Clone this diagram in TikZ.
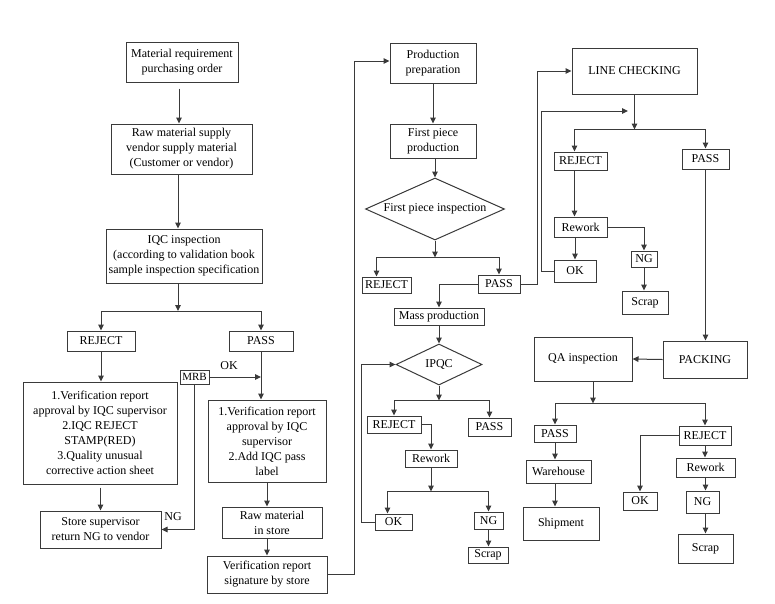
\documentclass[tikz,border=0pt]{standalone}
\usepackage{fontspec}
\setmainfont{Liberation Serif}
\usetikzlibrary{arrows.meta,shapes.geometric}
\definecolor{lc}{HTML}{3A3A3A}
\begin{document}
\begin{tikzpicture}[x=1pt,y=-1pt,
  every node/.style={font=\fontsize{12}{15}\selectfont, text=black},
  box/.style={draw=lc, line width=1pt, rectangle, inner sep=1pt, align=center},
  dia/.style={draw=lc, line width=1pt, diamond, inner sep=0pt, align=center},
  arr/.style={draw=lc, line width=1pt, -{Triangle[length=6pt,width=5.5pt]}},
  lbl/.style={inner sep=0pt}
]
\fill[white] (0,0) rectangle (775,603);
\useasboundingbox (0,0) rectangle (775,603);

% ---------- column 1 ----------
\node[box, minimum width=112pt, minimum height=40pt] (mro) at (182,62) {Material requirement\\purchasing order};
\node[box, minimum width=141pt, minimum height=50pt] (raw) at (181.5,149) {Raw material supply\\vendor supply material\\(Customer or vendor)};
\node[box, minimum width=156pt, minimum height=54pt] (iqc) at (184,256) {IQC inspection\\(according to validation book\\sample inspection specification};
\node[box, minimum width=68pt, minimum height=20pt] (rej1) at (101,341) {REJECT};
\node[box, minimum width=64pt, minimum height=20pt] (pass1) at (261,341) {PASS};
\node[box, minimum width=154pt, minimum height=102pt] (rejact) at (100,433) {1.Verification report\\approval by IQC supervisor\\2.IQC REJECT\\STAMP(RED)\\3.Quality unusual\\corrective action sheet};
\node[box, minimum width=29pt, minimum height=14pt, font=\fontsize{11}{13}\selectfont] (mrb) at (194.5,377) {MRB};
\node[box, minimum width=118pt, minimum height=82pt] (passact) at (267,441) {1.Verification report\\approval by IQC\\supervisor\\2.Add IQC pass\\label};
\node[box, minimum width=121pt, minimum height=37pt] (store) at (100.5,529.5) {Store supervisor\\return NG to vendor};
\node[box, minimum width=100pt, minimum height=31pt] (rawstore) at (272,522.5) {Raw material\\in store};
\node[box, minimum width=120pt, minimum height=37pt] (versig) at (267,574.5) {Verification report\\signature by store};
\node[lbl] (okl) at (229,366) {OK};
\node[lbl] (ngl) at (173,517) {NG};

% ---------- column 2 ----------
\node[box, minimum width=86pt, minimum height=40pt] (prodprep) at (433,63) {Production\\preparation};
\node[box, minimum width=86pt, minimum height=34pt] (fpp) at (433,141) {First piece\\production};
\node[dia, aspect=2.24, minimum width=139pt, minimum height=62pt] (fpi) at (435,209) {First piece inspection};
\node[box, minimum width=49pt, minimum height=16pt] (rej2) at (386.5,285) {REJECT};
\node[box, minimum width=42pt, minimum height=18pt] (pass2) at (499,284) {PASS};
\node[box, minimum width=90pt, minimum height=17pt] (mass) at (439,316.5) {Mass production};
\node[dia, aspect=2.1, minimum width=86pt, minimum height=41pt] (ipqc) at (439,364.5) {IPQC};
\node[box, minimum width=54pt, minimum height=17pt] (rej3) at (394,424.5) {REJECT};
\node[box, minimum width=43pt, minimum height=18pt] (pass3) at (489.5,427) {PASS};
\node[box, minimum width=52pt, minimum height=17pt] (rework3) at (431,458.5) {Rework};
\node[box, minimum width=37pt, minimum height=16pt] (ok3) at (393.5,522) {OK};
\node[box, minimum width=29pt, minimum height=17pt] (ng3) at (488.5,520.5) {NG};
\node[box, minimum width=40pt, minimum height=16pt] (scrap3) at (488,555) {Scrap};

% ---------- column 3 ----------
\node[box, minimum width=125pt, minimum height=46pt] (linechk) at (634.5,71) {LINE CHECKING};
\node[box, minimum width=53pt, minimum height=18pt] (rej4) at (580.5,161) {REJECT};
\node[box, minimum width=47pt, minimum height=20pt] (pass4) at (705.5,159) {PASS};
\node[box, minimum width=53pt, minimum height=20pt] (rework4) at (580.5,227) {Rework};
\node[box, minimum width=26pt, minimum height=16pt] (ng4) at (644,259) {NG};
\node[box, minimum width=46pt, minimum height=23pt] (scrap4) at (645,302.5) {Scrap};
\node[box, minimum width=42pt, minimum height=22pt] (ok4) at (575,271) {OK};
\node[box, minimum width=84pt, minimum height=37pt] (packing) at (705,359.5) {PACKING};
\node[box, minimum width=98pt, minimum height=44pt] (qa) at (583,359) {QA inspection};
\node[box, minimum width=42pt, minimum height=17pt] (pass5) at (555,433.5) {PASS};
\node[box, minimum width=52pt, minimum height=19pt] (rej5) at (705,435.5) {REJECT};
\node[box, minimum width=65pt, minimum height=23pt] (warehouse) at (558.5,471.5) {Warehouse};
\node[box, minimum width=76pt, minimum height=33pt] (shipment) at (561,523.5) {Shipment};
\node[box, minimum width=34pt, minimum height=18pt] (ok5) at (640,501) {OK};
\node[box, minimum width=59pt, minimum height=19pt] (rework5) at (705.5,467.5) {Rework};
\node[box, minimum width=33pt, minimum height=22pt] (ng5) at (702.5,502) {NG};
\node[box, minimum width=55pt, minimum height=29pt] (scrap5) at (705.5,548.5) {Scrap};

% ---------- connectors column 1 ----------
\coordinate (c0) at (179,0);
\draw[arr, shorten <=6pt] (mro.south -| c0) -- (raw.north -| c0);
\draw[arr] (raw.south -| 178,0) -- (iqc.north -| 178,0);
\coordinate (j1) at (178,311);
\draw[arr] (j1 |- iqc.south) -- (j1);
\draw[arr] (j1) -| (rej1.north);
\draw[arr] (j1) -| (pass1.north);
\draw[arr] (rej1.south) -- (rej1.south |- rejact.north);
\draw[arr] (pass1.south) -- (pass1.south |- passact.north);
\draw[arr] (mrb.east) -- (mrb.east -| pass1.south);
\draw[arr] (mrb.south) |- (store.east);
\draw[arr, shorten <=3pt] (rejact.south -| store.north) -- (store.north);
\draw[arr] (passact.south -| versig.north) -- (rawstore.north -| versig.north);
\draw[arr] (rawstore.south -| versig.north) -- (versig.north);
\coordinate (c1) at (354,61);
\draw[arr] (versig.east) -- (versig.east -| c1) -- (c1) -- (c1 -| prodprep.west);

% ---------- connectors column 2 ----------
\draw[arr] (prodprep.south) -- (fpp.north);
\draw[arr] (fpp.south -| fpi.north) -- (fpi.north);
\draw[arr] (fpi.south) -- ++(0,17) coordinate (j2);
\draw[arr] (j2) -| ([xshift=-10pt]rej2.north);
\draw[arr] (j2) -| (pass2.north);
\draw[arr] (pass2.west) -| (mass.north);
\draw[arr] (pass2.east) -- ++(17,0) |- (linechk.west);
\draw[arr] (mass.south) -- (ipqc.north);
\draw[arr] (ipqc.south) -- ++(0,15) coordinate (j3);
\draw[arr] (j3) -| (rej3.north);
\draw[arr] (j3) -| (pass3.north);
\draw[arr] (rej3.east) -| (rework3.north);
\draw[arr] (rework3.south) -- ++(0,24) coordinate (j4);
\draw[arr] (j4) -| ([xshift=-6pt]ok3.north);
\draw[arr] (j4) -| (ng3.north);
\draw[arr] (ng3.south) -- (ng3.south |- scrap3.north);
\draw[arr] (ok3.west) -- ++(-13,0) |- (ipqc.west);

% ---------- connectors column 3 ----------
\draw[arr] (linechk.south) -- ++(0,35) coordinate (j5);
\draw[arr] (j5) -| ([xshift=-6pt]rej4.north);
\draw[arr] (j5) -| (pass4.north);
\draw[arr] ([xshift=-6pt]rej4.south) -- ([xshift=-6pt]rework4.north);
\draw[arr] (rework4.east) -| (ng4.north);
\draw[arr] (ng4.south) -- (ng4.south |- scrap4.north);
\draw[arr] (rework4.south -| ok4.north) -- (ok4.north);
\coordinate (lcin) at (628,111);
\draw[arr] (ok4.west) -- ++(-12,0) |- (lcin);
\draw[arr] (pass4.south) -- (pass4.south |- packing.north);
\draw[arr] (packing.west) -- (qa.east);
\draw[arr] ([xshift=10pt]qa.south) -- ++(0,22) coordinate (j6);
\draw[arr] (j6) -| (pass5.north);
\draw[arr] (j6) -| (rej5.north);
\draw[arr] (pass5.south) -- (pass5.south |- warehouse.north);
\draw[arr] (pass5.south |- warehouse.south) -- (pass5.south |- shipment.north);
\draw[arr] (rej5.west) -| (ok5.north);
\draw[arr] (rej5.south) -- (rej5.south |- rework5.north);
\draw[arr] (rework5.south) -- (rework5.south |- ng5.north);
\draw[arr] (ng5.south -| rework5.south) -- (rework5.south |- scrap5.north);
\end{tikzpicture}
\end{document}
